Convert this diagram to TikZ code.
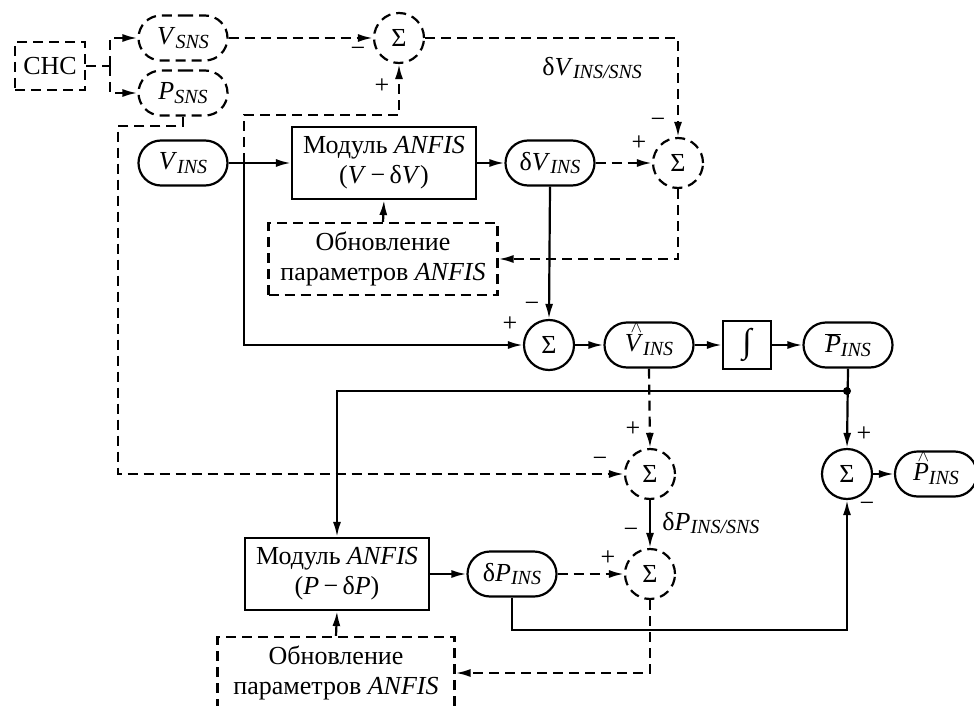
\documentclass[tikz,border=0pt]{standalone}
\usepackage{fontspec}
\setmainfont{Liberation Serif}
\usetikzlibrary{arrows.meta,positioning,calc,shapes.misc}

\newcommand{\sbs}[1]{\raisebox{-0.32ex}{\fontsize{20}{22}\selectfont\itshape #1}}
\newcommand{\vr}[1]{\textit{#1}}
\newcommand{\hatvr}[1]{\ooalign{\textit{#1}\cr\hidewidth\kern0.18em\raisebox{0.74em}{\fontsize{16}{16}\selectfont$\wedge$}\hidewidth\cr}}

\begin{document}
\begin{tikzpicture}[x=1pt,y=-1pt,
  every node/.style={font=\fontsize{26}{30}\selectfont},
  line width=2.2pt, >={Latex[length=15pt,width=8pt]},
  dline/.style={dash pattern=on 10pt off 6pt},
  pill/.style={draw, rounded rectangle, minimum width=93pt, minimum height=45pt, inner sep=2pt},
  sumnode/.style={draw, circle, minimum size=50pt, inner sep=0pt},
  block/.style={draw, minimum width=184pt, minimum height=72pt, align=center, inner sep=2pt},
  sign/.style={inner sep=0pt}]
  \useasboundingbox (0,0) rectangle (974,706);

  % Sensor branch
  \node[draw, dline, minimum width=70pt, minimum height=48pt, inner sep=2pt] (chc) at (50,66) {СНС};
  \node[pill, dline] (vsns) at (183,38) {\vr{V}\sbs{SNS}};
  \node[pill, dline] (psns) at (183,93) {\vr{P}\sbs{SNS}};
  \node[sumnode, dline] (s1) at (399,38) {Σ};

  % Velocity channel
  \node[pill] (vins) at (183,163) {\vr{V}\sbs{INS}};
  \node[block] (mod1) at (384,163) {Модуль \vr{ANFIS}\\(\vr{V}\,−\,δ\vr{V})};
  \node[pill] (dvins) at (550,163) {δ\vr{V}\sbs{INS}};
  \node[sumnode, dline] (s2) at (678,163) {Σ};
  \node[draw, dline, minimum width=229pt, minimum height=72pt, align=center, inner sep=2pt] (upd1) at (383,259) {Обновление\\параметров \vr{ANFIS}};

  \node[sumnode] (s4) at (549,345) {Σ};
  \node[pill] (vhat) at (649,345) {\hatvr{V}\sbs{INS}};
  \node[draw, minimum size=48pt, inner sep=0pt] (integ) at (747,345) {\raisebox{-0.6ex}{\fontsize{34}{34}\selectfont ∫}};
  \node[pill] (pbar) at (848,345) {\ensuremath{\overline{\textit{P}}}\sbs{INS}};

  % Position channel
  \node[sumnode] (s5) at (847,474) {Σ};
  \node[pill, minimum width=84pt, inner sep=1pt] (phat) at (936,474) {\hatvr{P}\sbs{INS}};
  \node[sumnode, dline] (s3) at (650,474) {Σ};
  \node[block] (mod2) at (337,574) {Модуль \vr{ANFIS}\\(\vr{P}\,−\,δ\vr{P})};
  \node[pill] (dpins) at (512,574) {δ\vr{P}\sbs{INS}};
  \node[sumnode, dline] (s6) at (650,574) {Σ};
  \node[draw, dline, minimum width=237pt, minimum height=72pt, align=center, inner sep=2pt] (upd2) at (336,673) {Обновление\\параметров \vr{ANFIS}};

  % Corner points
  \coordinate (j0) at (110,66);
  \coordinate (j1) at (244,163);
  \coordinate (k1) at (244,115);
  \coordinate (k2) at (118,126);
  \coordinate (k3) at (847,630);
  \coordinate (dot) at (847,391);

  % Dashed connectors
  \draw[dline] (chc.east) -- (j0);
  \draw[dline,->] (j0) |- (vsns.west);
  \draw[dline,->] (j0) |- (psns.west);
  \draw[dline,->] (vsns.east) -- (s1.west);
  \draw[dline,->] (j1) -- (k1) -| (s1.south);
  \draw[dline,->] (s1.east) -| (s2.north);
  \draw[dline,->] (dvins.east) -- (s2.west);
  \draw[dline,->] (s2.south) |- (upd1.east);
  \draw[dline,->] (upd1.north) -- (mod1.south);
  \draw[dline,->] (psns.south) |- (k2) -- (k2 |- s3.west) -- (s3.west);
  \draw[dline,->] (vhat.south) -- (s3.north);
  \draw[dline,->] (dpins.east) -- (s6.west);
  \draw[dline,->] (s6.south) |- (upd2.east);
  \draw[dline,->] (upd2.north) -- (mod2.south);

  % Solid connectors
  \draw[->] (vins.east) -- (mod1.west);
  \draw[->] (mod1.east) -- (dvins.west);
  \draw[->] (dvins.south) -- (s4.north);
  \draw[->] (j1) |- (s4.west);
  \draw[->] (s4.east) -- (vhat.west);
  \draw[->] (vhat.east) -- (integ.west);
  \draw[->] (integ.east) -- (pbar.west);
  \draw[->] (pbar.south) -- (s5.north);
  \draw[->] (dot) -| (mod2.north);
  \fill (dot) circle (4pt);
  \draw[->] (s5.east) -- (phat.west);
  \draw[->] (s3.south) -- (s6.north);
  \draw[->] (mod2.east) -- (dpins.west);
  \draw[->] (dpins.south) |- (k3) -- (s5.south);

  % Signs and labels
  \node[sign] (m1) at (358,52) {−};
  \node[sign] (p1) at (382,86) {+};
  \node[sign] (m2) at (658,123) {−};
  \node[sign] (p2) at (639,143) {+};
  \node[sign] (p4) at (510,324) {+};
  \node[sign] (m4) at (532,307) {−};
  \node[sign] (p5) at (864,434) {+};
  \node[sign] (m5) at (867,507) {−};
  \node[sign] (p3) at (633,429) {+};
  \node[sign] (m3) at (600,462) {−};
  \node[sign] (m6) at (631,533) {−};
  \node[sign] (p6) at (608,558) {+};
  \node[anchor=west] (dvlab) at (538,68) {δ\vr{V}\sbs{INS/SNS}};
  \node[anchor=west] (dplab) at (658,523) {δ\vr{P}\sbs{INS/SNS}};
\end{tikzpicture}
\end{document}
